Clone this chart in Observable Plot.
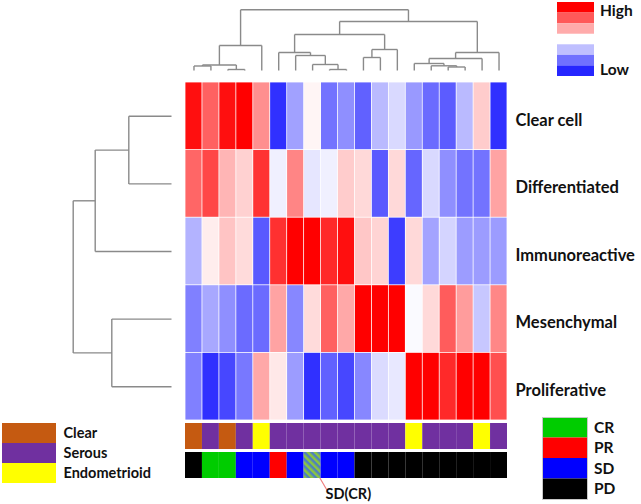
<!DOCTYPE html>
<html><head><meta charset="utf-8">
<script src="https://cdn.jsdelivr.net/npm/d3@7"></script>
<script src="https://cdn.jsdelivr.net/npm/@observablehq/plot@0.6"></script>
<style>
body{margin:0;background:#fff;}
#chart{position:relative;width:641px;height:504px;overflow:hidden;font-family:Lato,"Open Sans",sans-serif;}
#chart > div{position:absolute;}
</style></head><body><div id="chart"></div>
<script>
// ---------- data ----------
const samples = ["S1","S2","S3","S4","S5","S6","S7","S8","S9","S10","S11","S12","S13","S14","S15","S16","S17","S18","S19"];
const subtypes = ["Clear cell","Differentiated","Immunoreactive","Mesenchymal","Proliferative"];
const clearCell      = [0.94, 0.62, 0.94, 1.00, 0.44, -0.81, -0.37, 0.04, -0.55, -0.44, -0.62, -0.27, -0.15, -0.40, -0.58, -0.64, -0.27, 0.20, -0.81];
const differentiated = [0.60, 0.72, 0.29, 0.18, 0.80, -0.06, 0.48, -0.10, -0.06, 0.20, 0.15, -0.65, 0.15, -0.60, -0.15, -0.44, -0.55, -0.55, 0.36];
const immunoreactive = [-0.30, 0.07, 0.23, 0.14, -0.65, 0.81, 1.00, 1.00, 0.84, 0.94, 0.22, 0.17, -0.76, 0.15, -0.36, -0.17, -0.39, -0.39, -0.39];
const mesenchymal    = [-0.50, -0.34, -0.44, -0.58, -0.58, 0.36, -0.47, 0.14, 0.62, 0.34, 1.00, 1.00, 1.00, -0.02, 0.15, 0.64, 0.39, -0.22, 0.47];
const proliferative  = [-0.50, -0.81, -0.72, -0.53, 0.34, 0.09, -0.39, -0.81, -0.62, -0.72, -0.47, -0.14, -0.09, 1.00, 1.00, 0.84, 1.00, 1.00, 0.69];
const histology = ["Clear","Serous","Clear","Serous","Endometrioid","Serous","Serous","Serous","Serous","Serous","Serous","Serous","Serous","Endometrioid","Serous","Serous","Serous","Endometrioid","Serous"];
const response  = ["PD","CR","CR","SD","SD","PR","SD","SD(CR)","SD","SD","PD","PD","PD","PD","PD","PD","PD","PD","PD"];
const histologyTypes  = ["Clear","Serous","Endometrioid"];
const histologyColors = ["#C55A11","#7030A0","#FFFF00"];
const responseTypes   = ["CR","PR","SD","PD"];
const responseColors  = ["#00CC00","#FF0000","#0000FF","#000000"];
const mixedLabel = "SD(CR)";
// column dendrogram: [left, right, height]; leaves 0..18, merged nodes numbered from 19
const columnMerges = [[0,1,4.5],[2,3,1],[19,20,5.5],[21,4,25],[8,9,1],[7,23,6],[6,24,15],[5,25,18],[10,11,13],[27,12,21],[26,28,36],[15,16,3.5],[14,30,4.7],[13,31,7],[32,17,12],[33,18,18],[29,34,49],[22,35,60.7]];
// row dendrogram: leaves 0..4, merged nodes from 5
const rowMerges = [[0,1,42.7],[5,2,76.3],[3,4,59.7],[6,7,98.3]];
const legendLabels = ["High","Low"];
const legendLevels = [1, 0.65, 0.33, null, -0.25, -0.56, -0.85];

// ---------- helpers ----------
const seriesByType = [clearCell, differentiated, immunoreactive, mesenchymal, proliferative];
const heat = subtypes.flatMap((t, r) => samples.map((s, c) => ({row: t, col: s, value: seriesByType[r][c]})));
const annot = samples.flatMap((s, i) => [{row: "hist", col: s, cat: histology[i]}, {row: "resp", col: s, cat: response[i]}]);
function dendro(n, merges) {
  const pos = [], ht = [], segs = [];
  for (let i = 0; i < n; i++) { pos[i] = i; ht[i] = 0; }
  merges.forEach(([a, b, h], k) => {
    segs.push({p1: pos[a], h1: ht[a], p2: pos[a], h2: h});
    segs.push({p1: pos[b], h1: ht[b], p2: pos[b], h2: h});
    segs.push({p1: pos[a], h1: h, p2: pos[b], h2: h});
    pos[n + k] = (pos[a] + pos[b]) / 2; ht[n + k] = h;
  });
  return segs;
}
const heatColor = {type: "linear", domain: [-1, 0, 1], range: ["#0000ff", "#ffffff", "#ff0000"], interpolate: "rgb"};
const baseStyle = {fontFamily: "Lato, 'Open Sans', sans-serif", fontWeight: "bold", color: "#111", background: "none", overflow: "visible"};
const chart = document.getElementById("chart");
function place(svg, left, top, width) {
  const d = document.createElement("div");
  d.style.left = left + "px"; d.style.top = top + "px"; d.style.width = width + "px";
  d.appendChild(svg); chart.appendChild(d);
}
const gray = "#8a8a8a";
const mixedIndex = response.indexOf(mixedLabel);
const heatW = 322, heatH = 338;

// ---------- top dendrogram ----------
place(Plot.plot({
  width: heatW, height: 71, margin: 0,
  x: {type: "linear", domain: [-0.5, samples.length - 0.5], range: [0, heatW], axis: null},
  y: {type: "linear", domain: [0, 70], range: [70, 0], axis: null},
  style: baseStyle,
  marks: [Plot.link(dendro(samples.length, columnMerges), {x1: "p1", y1: "h1", x2: "p2", y2: "h2", stroke: gray, strokeWidth: 1.4})]
}), 185, 0, heatW);

// ---------- left dendrogram ----------
place(Plot.plot({
  width: 171, height: heatH, margin: 0,
  x: {type: "linear", domain: [171, 0], range: [0, 171], axis: null},
  y: {type: "linear", domain: [-0.5, subtypes.length - 0.5], range: [0, heatH], axis: null},
  style: baseStyle,
  marks: [Plot.link(dendro(subtypes.length, rowMerges), {x1: "h1", y1: "p1", x2: "h2", y2: "p2", stroke: gray, strokeWidth: 1.4})]
}), 0, 82, 171);

// ---------- heatmap ----------
place(Plot.plot({
  width: heatW + 140, height: heatH, margin: 0, marginRight: 140,
  x: {domain: samples, padding: 0, round: false, axis: null},
  y: {domain: subtypes, padding: 0, round: false, label: null},
  color: heatColor,
  style: {...baseStyle, fontSize: "16px"},
  marks: [
    Plot.cell(heat, {x: "col", y: "row", fill: "value", inset: 0.4}),
    Plot.axisY({anchor: "right", tickSize: 0, tickPadding: 8, fontSize: 16.5, fontWeight: "bold", dy: 4, label: null, fill: "#111"})
  ]
}), 185, 82, heatW + 140);

// ---------- annotation bars ----------
const annotPlot = Plot.plot({
  width: heatW, height: 84, margin: 0,
  x: {domain: samples, padding: 0, round: false, axis: null},
  y: {domain: ["hist", "resp", "note"], paddingInner: 3 / 29, paddingOuter: 0, round: false, axis: null},
  color: {type: "ordinal", domain: [...histologyTypes, ...responseTypes, mixedLabel], range: [...histologyColors, ...responseColors, "url(#hatch-sdcr)"]},
  style: {...baseStyle, fontSize: "14px"},
  marks: [
    Plot.arrow([mixedLabel], {x1: () => samples[mixedIndex], y1: () => "resp", x2: () => samples[mixedIndex + 1], y2: () => "note", headLength: 0, stroke: "#f08080", strokeWidth: 1.2, insetEnd: 5}),
    Plot.cell(annot, {x: "col", y: "row", fill: "cat", inset: 0}),
    Plot.text([mixedLabel], {x: () => samples[mixedIndex + 1], y: () => "note", text: d => d, textAnchor: "start", dx: -4, fontSize: 14.5, fontWeight: "bold", fill: "#111"})
  ]
});
const defs = d3.select(annotPlot).insert("defs", ":first-child");
const pat = defs.append("pattern").attr("id", "hatch-sdcr").attr("patternUnits", "userSpaceOnUse").attr("width", 5).attr("height", 5).attr("patternTransform", "rotate(-45)");
pat.append("rect").attr("width", 5).attr("height", 5).attr("fill", "#4F81BD");
pat.append("rect").attr("width", 2.5).attr("height", 5).attr("fill", "#8CC63F");
place(annotPlot, 185, 423, heatW);

// ---------- High / Low legend ----------
const levels = legendLevels.map((v, i) => ({slot: i, value: v})).filter(d => d.value !== null);
const legendText = (label, slot, dy) => Plot.text([label], {x: () => "swatch", y: () => slot, text: d => d, textAnchor: "start", dx: 24, dy, fontSize: 15.5, fontWeight: "bold", fill: "#111"});
place(Plot.plot({
  width: 84, height: 74, margin: 0, marginRight: 47,
  x: {domain: ["swatch"], padding: 0, round: false, axis: null},
  y: {domain: d3.range(legendLevels.length), padding: 0, round: false, axis: null},
  color: heatColor,
  style: {...baseStyle, fontSize: "15.5px"},
  marks: [
    Plot.cell(levels, {x: () => "swatch", y: "slot", fill: "value"}),
    legendText(legendLabels[0], 0, 3),
    legendText(legendLabels[1], legendLevels.length - 1, -1)
  ]
}), 557, 2, 84);

// ---------- histology legend ----------
place(Plot.plot({
  width: 130, height: 60, margin: 0, marginRight: 76,
  x: {domain: ["swatch"], padding: 0, round: false, axis: null},
  y: {domain: histologyTypes, padding: 0, round: false, axis: null},
  color: {type: "ordinal", domain: histologyTypes, range: histologyColors},
  style: {...baseStyle, fontSize: "14px"},
  marks: [
    Plot.cell(histologyTypes, {x: () => "swatch", y: d => d, fill: d => d}),
    Plot.text(histologyTypes, {x: () => "swatch", y: d => d, text: d => d, textAnchor: "start", dx: 34, fontSize: 14.5, fontWeight: "bold", fill: "#111"})
  ]
}), 2, 423, 130);

// ---------- response legend ----------
place(Plot.plot({
  width: 99, height: 82, margin: 0, marginRight: 54,
  x: {domain: ["swatch"], padding: 0, round: false, axis: null},
  y: {domain: responseTypes, padding: 0, round: false, axis: null},
  color: {type: "ordinal", domain: responseTypes, range: responseColors},
  style: {...baseStyle, fontSize: "15px"},
  marks: [
    Plot.cell(responseTypes, {x: () => "swatch", y: d => d, fill: d => d}),
    Plot.frame({stroke: "#c8c8c8"}),
    Plot.text(responseTypes, {x: () => "swatch", y: d => d, text: d => d, textAnchor: "start", dx: 29, fontSize: 15.5, fontWeight: "bold", fill: "#111"})
  ]
}), 542, 417, 99);
</script></body></html>
